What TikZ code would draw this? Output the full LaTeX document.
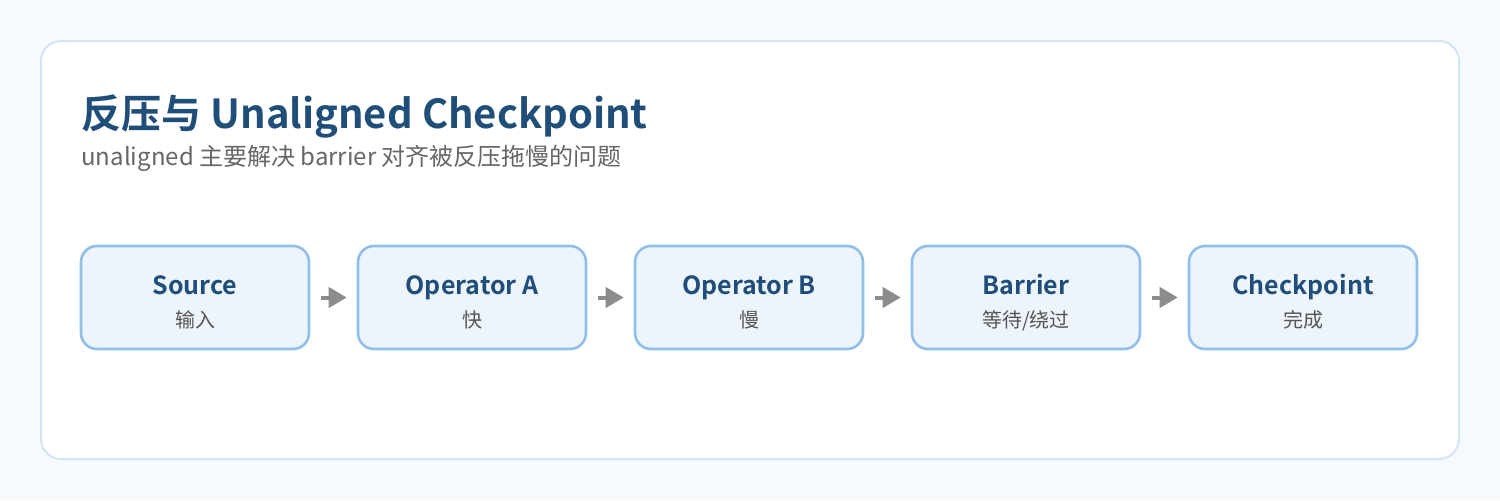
\documentclass[tikz,border=0pt]{standalone}
\usepackage{fontspec}
\setmainfont{Noto Sans CJK SC}[BoldFont={Noto Sans CJK SC Bold}]
\usepackage{xcolor}
\usetikzlibrary{arrows.meta,positioning}
\definecolor{pageBg}{HTML}{F7FAFD}
\definecolor{cardLine}{HTML}{D3E4F5}
\definecolor{boxFill}{HTML}{EDF4FC}
\definecolor{boxLine}{HTML}{90BFE9}
\definecolor{headBlue}{HTML}{1F4E79}
\definecolor{subGray}{HTML}{666666}
\definecolor{noteGray}{HTML}{555555}
\definecolor{arrowGray}{HTML}{8C8C8C}
\tikzset{
    stagebox/.style={draw=boxLine,fill=boxFill,line width=1.3pt,rounded corners=8pt,
        minimum width=114pt,minimum height=51.5pt,inner sep=0pt},
    stagename/.style={anchor=base,text=headBlue,font=\fontsize{12.5}{15}\selectfont\bfseries},
    stagenote/.style={anchor=base,text=noteGray,font=\fontsize{10}{12}\selectfont},
    flow/.style={arrowGray,line width=2pt,-{Triangle[length=9pt,width=10pt]},
        shorten <=5.5pt,shorten >=5pt}
}
\begin{document}
\begin{tikzpicture}[x=0.5pt,y=-0.5pt]
        % Page and card
        \useasboundingbox[fill=pageBg] (0,0) rectangle (1500,500);
        \draw[fill=white,draw=cardLine,line width=1pt,rounded corners=10pt] (41,41) rectangle (1459,459);

        % Heading
        \node[anchor=base west,inner sep=0pt,text=headBlue,font=\fontsize{20}{24}\selectfont\bfseries]
            (title) at (81,128) {反压与 Unaligned Checkpoint};
        \node[anchor=base west,inner sep=0pt,text=subGray,font=\fontsize{12}{14}\selectfont]
            (subtitle) at (81,165) {unaligned 主要解决 barrier 对齐被反压拖慢的问题};

        % Pipeline stages
        \foreach \i/\nm/\note in {
            1/Source/输入,
            2/Operator A/快,
            3/Operator B/慢,
            4/Barrier/{等待/绕过},
            5/Checkpoint/完成
        }{
            \node[stagebox] (b\i) at ({195+(\i-1)*277},297.5) {};
            \node[stagename] (n\i) at ({195+(\i-1)*277},294) {\nm};
            \node[stagenote] (t\i) at ({195+(\i-1)*277},327) {\note};
        }

        % Arrows between stages
        \foreach \i/\j in {1/2,2/3,3/4,4/5}{
            \draw[flow] (b\i) -- (b\j);
        }
    \end{tikzpicture}
\end{document}
